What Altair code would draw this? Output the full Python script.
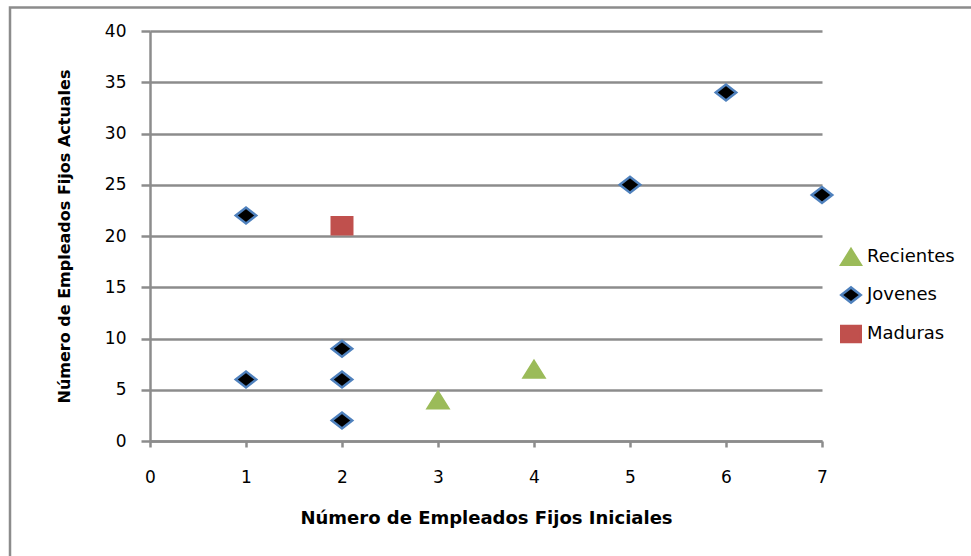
import altair as alt
import pandas as pd

# Data
recientes_x = [3, 4]
recientes_y = [4, 7]
jovenes_x = [1, 1, 2, 2, 2, 5, 6, 7]
jovenes_y = [22, 6, 9, 6, 2, 25, 34, 24]
maduras_x = [2]
maduras_y = [21]

groups = ["Recientes", "Jovenes", "Maduras"]
x_ticks = [0, 1, 2, 3, 4, 5, 6, 7]
y_ticks = [0, 5, 10, 15, 20, 25, 30, 35, 40]

rows = []
for g, xs, ys in [("Recientes", recientes_x, recientes_y),
                  ("Jovenes", jovenes_x, jovenes_y),
                  ("Maduras", maduras_x, maduras_y)]:
    for a, b in zip(xs, ys):
        rows.append({"x": a, "y": b, "grupo": g})
df = pd.DataFrame(rows)

FONT = "DejaVu Sans"
GRAY = "#8c8c8c"

tri = "M0,-0.8L1,0.8L-1,0.8Z"
dia = "M-1,0L0,-0.78L1,0L0,0.78Z"
sq = "M-1,-0.83L1,-0.83L1,0.83L-1,0.83Z"

points = alt.Chart(df).mark_point(filled=True, opacity=1, size=420, strokeWidth=2.5).encode(
    x=alt.X("x:Q", scale=alt.Scale(domain=[0, 7], nice=False, zero=True),
            axis=alt.Axis(values=x_ticks, title="Número de Empleados  Fijos Iniciales",
                          grid=False, domainColor=GRAY, domainWidth=2.5,
                          tickColor=GRAY, tickWidth=2.5, tickSize=6,
                          labelFlush=False,
                          labelPadding=22, labelFontSize=17, labelFont=FONT,
                          labelColor="#000000", titleFont=FONT, titleFontSize=18,
                          titleFontWeight="bold", titleColor="#000000", titlePadding=24)),
    y=alt.Y("y:Q", scale=alt.Scale(domain=[0, 40], nice=False),
            axis=alt.Axis(values=y_ticks, title="Número de Empleados  Fijos Actuales",
                          grid=True, gridColor=GRAY, gridWidth=2.5,
                          domainColor=GRAY, domainWidth=2.5,
                          tickColor=GRAY, tickWidth=2.5, tickSize=9,
                          labelFlush=False,
                          labelPadding=15, labelFontSize=17, labelFont=FONT,
                          labelColor="#000000", titleFont=FONT, titleFontSize=16,
                          titleFontWeight="bold", titleColor="#000000", titlePadding=32)),
    shape=alt.Shape("grupo:N", scale=alt.Scale(domain=groups, range=[tri, dia, sq]),
                    legend=alt.Legend(title=None, orient="none", legendX=690, legendY=215,
                                      symbolSize=380, symbolStrokeWidth=2.5,
                                      labelFont=FONT, labelFontSize=18, labelColor="#000000",
                                      rowPadding=12, labelOffset=5, padding=0)),
    fill=alt.Fill("grupo:N", scale=alt.Scale(domain=groups, range=["#9BBB59", "#000000", "#C0504D"])),
    stroke=alt.Stroke("grupo:N", scale=alt.Scale(domain=groups, range=["#9BBB59", "#4F81BD", "#C0504D"])),
)

border = alt.Chart(pd.DataFrame({"a": [0]})).mark_rect(
    fillOpacity=0, stroke=GRAY, strokeWidth=2.5
).encode(x=alt.value(-140), x2=alt.value(840), y=alt.value(-23.5), y2=alt.value(560))

chart = alt.layer(border, points).properties(
    width=672, height=410,
    background="white",
    autosize=alt.AutoSizeParams(type="none"),
    padding={"left": 150, "top": 31, "right": 149, "bottom": 115},
).configure_view(stroke=None, strokeWidth=0)

chart.save("out.html", embed_options={"renderer": "svg", "actions": False})
